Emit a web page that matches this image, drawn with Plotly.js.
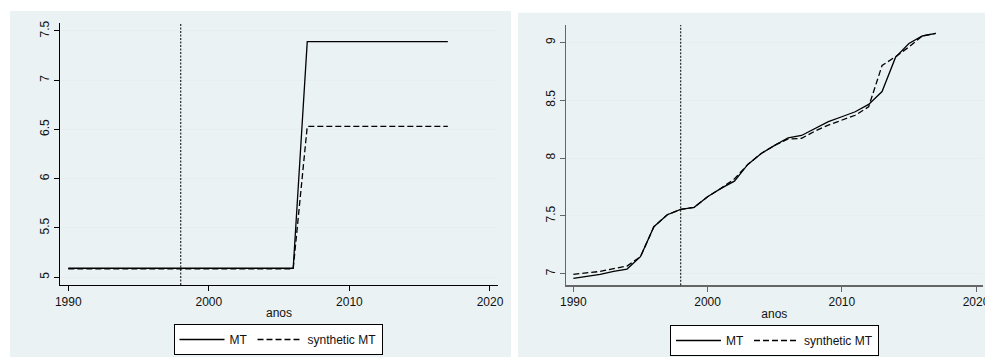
<!DOCTYPE html>
<html>
<head>
<meta charset="utf-8">
<script src="https://cdn.plot.ly/plotly-3.0.1.min.js"></script>
<style>html,body{margin:0;padding:0;background:#fff;}#chart{width:985px;height:358px;}</style>
</head>
<body>
<div id="chart"></div>
<script>
var years = [1990,1991,1992,1993,1994,1995,1996,1997,1998,1999,2000,2001,2002,2003,2004,2005,2006,2007,2008,2009,2010,2011,2012,2013,2014,2015,2016,2017];

var leftMT = [5.09,5.09,5.09,5.09,5.09,5.09,5.09,5.09,5.09,5.09,5.09,5.09,5.09,5.09,5.09,5.09,5.09,7.39,7.39,7.39,7.39,7.39,7.39,7.39,7.39,7.39,7.39,7.39];
var leftSynth = [5.085,5.085,5.085,5.085,5.085,5.085,5.085,5.085,5.085,5.085,5.085,5.085,5.085,5.085,5.085,5.085,5.085,6.53,6.53,6.53,6.53,6.53,6.53,6.53,6.53,6.53,6.53,6.53];

var rightMT = [6.96,6.977,6.995,7.02,7.04,7.147,7.406,7.51,7.556,7.574,7.665,7.738,7.80,7.945,8.04,8.11,8.175,8.195,8.257,8.314,8.357,8.40,8.464,8.575,8.87,8.99,9.055,9.078];
var rightSynth = [6.995,7.007,7.02,7.045,7.066,7.147,7.406,7.51,7.556,7.574,7.665,7.738,7.82,7.945,8.04,8.11,8.165,8.17,8.233,8.285,8.328,8.37,8.443,8.80,8.876,8.96,9.055,9.078];

var treatYear = 1998;
var xTicks = [1990,2000,2010,2020];
var leftYTicks = [5,5.5,6,6.5,7,7.5];
var leftYLabels = ["5","5.5","6","6.5","7","7.5"];
var rightYTicks = [7,7.5,8,8.5,9];
var rightYLabels = ["7","7.5","8","8.5","9"];
var seriesNames = ["MT","synthetic MT"];
var xTitle = "anos";

var W = 985, H = 358;
function px(x){return x/W;}
function py(y){return 1 - y/H;}

var FONT = "Liberation Sans, Arial, Helvetica, sans-serif";
var bg = "#EAF2F3";
var grid = "#E6EEEF";

var solid = {color:"#000", width:1.3, dash:"solid"};
var dashed = {color:"#000", width:1.3, dash:"6px,3px"};

var traces = [
  {x:years, y:leftMT, type:"scatter", mode:"lines", name:seriesNames[0], line:solid, xaxis:"x", yaxis:"y", legend:"legend"},
  {x:years, y:leftSynth, type:"scatter", mode:"lines", name:seriesNames[1], line:dashed, xaxis:"x", yaxis:"y", legend:"legend"},
  {x:years, y:rightMT, type:"scatter", mode:"lines", name:seriesNames[0], line:solid, xaxis:"x2", yaxis:"y2", legend:"legend2"},
  {x:years, y:rightSynth, type:"scatter", mode:"lines", name:seriesNames[1], line:dashed, xaxis:"x2", yaxis:"y2", legend:"legend2"}
];

function xax(domain, range, lc, anchor){
  return {domain:domain, range:range, anchor:anchor, tickmode:"array", tickvals:xTicks, ticktext:xTicks.map(String),
    ticks:"outside", ticklen:5, tickwidth:1, tickcolor:lc, showline:true, linecolor:lc, linewidth:1.2,
    showgrid:false, zeroline:false, tickfont:{family:FONT, size:12, color:"#111"}, ticklabeloverflow:"allow",
    title:{text:xTitle, font:{family:FONT, size:12, color:"#111"}, standoff:1}, automargin:false};
}
function yax(domain, range, vals, labels, lc, anchor){
  return {domain:domain, range:range, anchor:anchor, tickmode:"array", tickvals:vals, ticktext:labels,
    ticks:"outside", ticklen:5, tickwidth:1, tickcolor:lc, showline:true, linecolor:lc, linewidth:1.2,
    showgrid:true, gridcolor:grid, gridwidth:1, zeroline:false, tickangle:-90,
    tickfont:{family:FONT, size:12, color:"#111"}, automargin:false};
}

var layout = {
  width:W, height:H, margin:{l:0,r:0,t:0,b:0},
  paper_bgcolor:"#ffffff", plot_bgcolor:"#ffffff", showlegend:true,
  xaxis: xax([px(60), px(498)], [1989.41, 2020.57], "#000", "y"),
  yaxis: yax([py(285), py(23)], [4.92, 7.58], leftYTicks, leftYLabels, "#000", "x"),
  xaxis2: xax([px(565.7), px(983)], [1989.43, 2020.52], "#666", "y2"),
  yaxis2: yax([py(285.3), py(25)], [6.9, 9.15], rightYTicks, rightYLabels, "#666", "x2"),
  legend: {orientation:"h", x:px(278), xanchor:"center", y:py(324), yanchor:"top",
    bgcolor:"#fff", bordercolor:"#000", borderwidth:1, font:{family:FONT, size:12, color:"#111"}, itemwidth:45},
  legend2: {orientation:"h", x:px(774.5), xanchor:"center", y:py(325), yanchor:"top",
    bgcolor:"#fff", bordercolor:"#000", borderwidth:1, font:{family:FONT, size:12, color:"#111"}, itemwidth:45},
  shapes: [
    {type:"rect", xref:"paper", yref:"paper", x0:px(10), x1:px(511), y0:py(357), y1:py(11), fillcolor:bg, line:{width:0}, layer:"below"},
    {type:"rect", xref:"paper", yref:"paper", x0:px(518), x1:px(985), y0:py(357), y1:py(12.7), fillcolor:bg, line:{width:0}, layer:"below"},
    {type:"line", xref:"x", yref:"y domain", x0:treatYear, x1:treatYear, y0:0, y1:1, line:{color:"#000", width:1, dash:"2px,1.5px"}},
    {type:"line", xref:"x2", yref:"y2 domain", x0:treatYear, x1:treatYear, y0:0, y1:1, line:{color:"#000", width:1, dash:"2px,1.5px"}}
  ]
};

Plotly.newPlot("chart", traces, layout, {displayModeBar:false, staticPlot:true});
</script>
</body>
</html>
